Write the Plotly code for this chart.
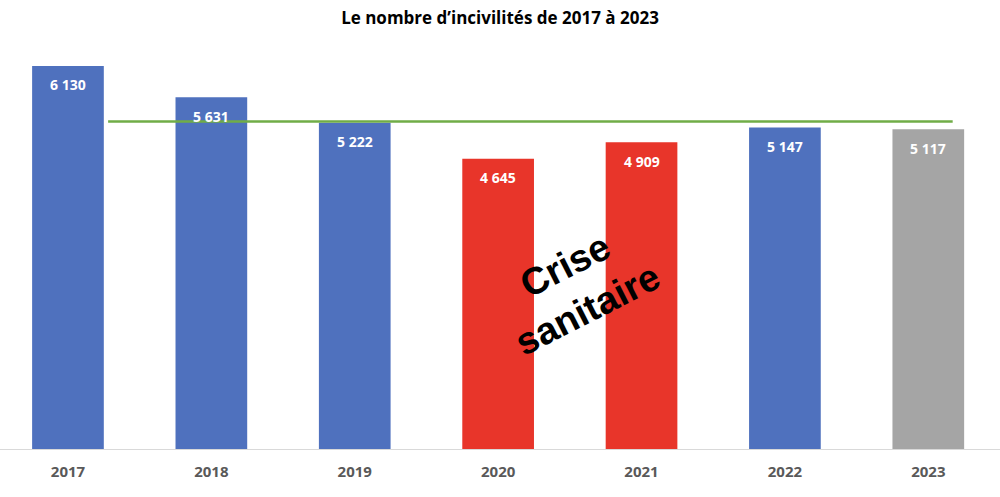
import plotly.graph_objects as go

# data
years = ["2017", "2018", "2019", "2020", "2021", "2022", "2023"]
incivilites = [6130, 5631, 5222, 4645, 4909, 5147, 5117]
bar_colors = ["#4F71BE", "#4F71BE", "#4F71BE", "#E8352A", "#E8352A", "#4F71BE", "#A5A5A5"]
ref_level = 5240  # green reference line
labels = [f"{v:,}".replace(",", " ") for v in incivilites]

fig = go.Figure()

fig.add_trace(go.Bar(
    x=years, y=incivilites,
    marker=dict(color=bar_colors, line=dict(width=0)),
    hoverinfo="x+y",
))

# green line from just after 2017 to just after 2023
fig.add_shape(type="line", xref="x", yref="y",
              x0=0.28, x1=6.17, y0=ref_level, y1=ref_level,
              line=dict(color="#70AD47", width=2.5))

annots = []
for i, (v, lab) in enumerate(zip(incivilites, labels)):
    annots.append(dict(x=i, y=v, xref="x", yref="y", text=f"<b>{lab}</b>",
                       showarrow=False, yshift=-19,
                       font=dict(color="white", size=14, family="Open Sans")))

annots.append(dict(x=3.54, y=2590, xref="x", yref="y",
                   text="<b>Crise<br>sanitaire</b>", showarrow=False,
                   textangle=-27,
                   font=dict(color="black", size=38, family="Liberation Sans")))

fig.update_layout(
    width=1000, height=497,
    title=dict(text="<b>Le nombre d’incivilités de 2017 à 2023</b>",
               x=0.5, xanchor="center", y=0.963, yanchor="middle",
               font=dict(size=17, color="black", family="Open Sans")),
    margin=dict(l=0, r=0, t=40, b=48, autoexpand=False),
    plot_bgcolor="white", paper_bgcolor="white",
    bargap=0.5,
    showlegend=False,
    annotations=annots,
    xaxis=dict(type="category", range=[-0.474, 6.50], automargin=False,
               tickvals=years, ticktext=[f"<b>{y}</b>" for y in years],
               showgrid=False, showline=True, linecolor="#D9D9D9", linewidth=1,
               ticks="", tickfont=dict(size=15, color="#595959", family="Open Sans"),
               ticklabelstandoff=9),
    yaxis=dict(range=[0, 6546], visible=False, showgrid=False, zeroline=False),
)

fig.write_html("out.html", config={"displayModeBar": False},
               post_script="document.body.style.margin='0';")
